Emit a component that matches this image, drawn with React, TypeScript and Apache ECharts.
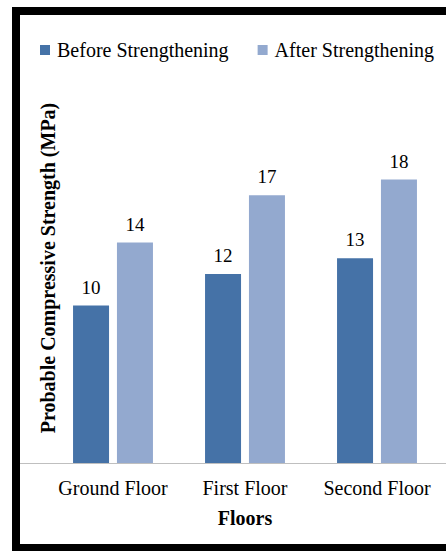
import React, { useEffect, useRef } from "react";
import * as echarts from "echarts";

const categories = ["Ground Floor", "First Floor", "Second Floor"];
const beforeValues = [10, 12, 13];
const afterValues = [14, 17, 18];
const seriesNames = ["Before Strengthening", "After Strengthening"];
const xAxisTitle = "Floors";
const yAxisTitle = "Probable Compressive Strength (MPa)";

const FONT = "Liberation Serif";

export default function App() {
  const ref = useRef<HTMLDivElement>(null);
  useEffect(() => {
    if (!ref.current) return;
    const chart = echarts.init(ref.current, undefined, { renderer: "svg" });
    chart.setOption({
      animation: false,
      backgroundColor: "#ffffff",
      textStyle: { fontFamily: FONT },
      legend: {
        left: 35,
        top: 35,
        itemWidth: 10,
        itemHeight: 10,
        itemGap: 29,
        icon: "rect",
        textStyle: { fontFamily: FONT, fontSize: 20, color: "#000", padding: [0, 0, 0, 2] },
        data: seriesNames,
      },
      grid: { left: 47, right: 3, top: 148, bottom: 88 },
      xAxis: {
        type: "category",
        data: categories,
        axisLine: { show: true, lineStyle: { color: "#BFBFBF", width: 1 } },
        axisTick: { show: false },
        axisLabel: { interval: 0, fontFamily: FONT, fontSize: 20, color: "#000", margin: 15 },
        name: xAxisTitle,
        nameLocation: "middle",
        nameGap: 45,
        nameTextStyle: { fontFamily: FONT, fontSize: 20, fontWeight: "bold", color: "#000" },
      },
      yAxis: {
        type: "value",
        min: 0,
        max: 20,
        show: false,
      },
      series: [
        {
          name: seriesNames[0],
          type: "bar",
          data: beforeValues,
          barWidth: 36,
          barGap: "22%",
          itemStyle: { color: "#4572A7" },
          label: { show: true, position: "top", distance: 9, fontFamily: FONT, fontSize: 19, color: "#000" },
        },
        {
          name: seriesNames[1],
          type: "bar",
          data: afterValues,
          barWidth: 36,
          barGap: "22%",
          itemStyle: { color: "#93A9CF" },
          label: { show: true, position: "top", distance: 9, fontFamily: FONT, fontSize: 19, color: "#000" },
        },
      ],
      graphic: [
        { type: "line", shape: { x1: 20, y1: 463.5, x2: 47, y2: 463.5 }, style: { stroke: "#BFBFBF", lineWidth: 1 } },
        { type: "line", shape: { x1: 443, y1: 463.5, x2: 446, y2: 463.5 }, style: { stroke: "#BFBFBF", lineWidth: 1 } },
        {
          type: "text",
          x: 48,
          y: 268,
          rotation: Math.PI / 2,
          style: {
            text: yAxisTitle,
            fontFamily: FONT,
            fontSize: 20,
            fontWeight: "bold",
            fill: "#000",
            align: "center",
            verticalAlign: "middle",
          },
        },
        { type: "rect", shape: { x: 12, y: 7, width: 434, height: 8 }, style: { fill: "#000" } },
        { type: "rect", shape: { x: 12, y: 7, width: 8, height: 544 }, style: { fill: "#000" } },
        { type: "rect", shape: { x: 12, y: 544, width: 434, height: 7 }, style: { fill: "#000" } },
      ],
    });
    return () => chart.dispose();
  }, []);
  return (
    <div
      ref={ref}
      style={{ position: "fixed", left: 0, top: 0, width: 446, height: 551 }}
    />
  );
}
